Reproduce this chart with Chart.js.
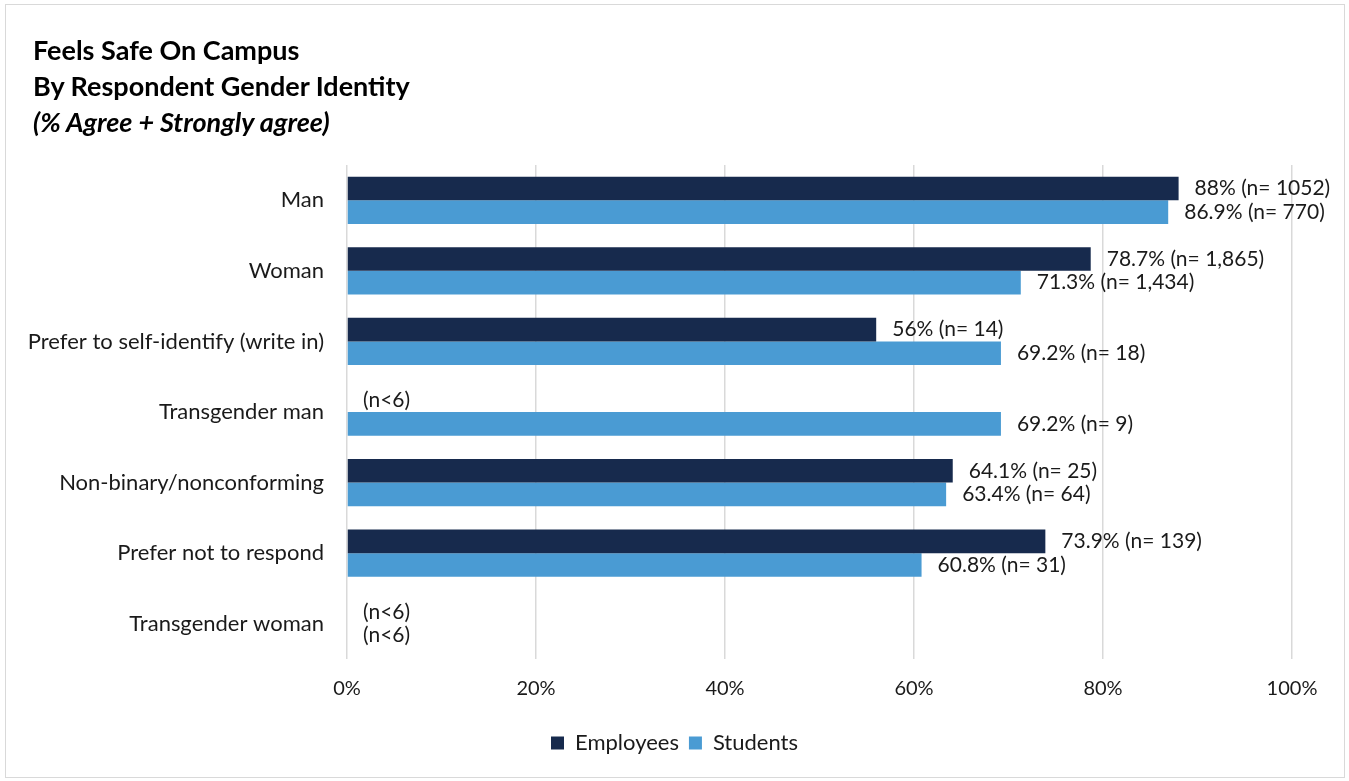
<!DOCTYPE html>
<html>
<head>
<meta charset="utf-8">
<script src="https://cdn.jsdelivr.net/npm/chart.js@4.4.1/dist/chart.umd.min.js"></script>
<style>
	html, body { margin: 0; padding: 0; background: #fff; }
	#wrap { position: relative; width: 1349px; height: 781px; }
	#frame { position: absolute; left: 5px; top: 4px; width: 1338px; height: 772px; border: 1px solid #d9d9d9; }
	#title { position: absolute; left: 33px; top: 32px; font-family: Lato, "Liberation Sans", sans-serif; font-weight: bold; font-size: 27px; line-height: 36px; color: #000; }
	#title i { font-style: italic; }
	#chartBox { position: absolute; left: 0; top: 0; width: 1349px; height: 781px; }
</style>
</head>
<body>
<div id="wrap">
	<div id="frame"></div>
	<div id="chartBox"><canvas id="safeChart"></canvas></div>
	<div id="title">Feels Safe On Campus<br>By Respondent Gender Identity<br><i>(% Agree + Strongly agree)</i></div>
</div>
<script>
const categories = ['Man', 'Woman', 'Prefer to self-identify (write in)', 'Transgender man', 'Non-binary/nonconforming', 'Prefer not to respond', 'Transgender woman'];
const employees = [88, 78.7, 56, null, 64.1, 73.9, null];
const employeesN = ['1052', '1,865', '14', null, '25', '139', null];
const students = [86.9, 71.3, 69.2, 69.2, 63.4, 60.8, null];
const studentsN = ['770', '1,434', '18', '9', '64', '31', null];
const xTicks = [0, 20, 40, 60, 80, 100];

const FONT = 'Lato, "Liberation Sans", sans-serif';

window.addEventListener('DOMContentLoaded', () => {
	const nLists = [employeesN, studentsN];

	// writes "value% (n= count)" after each bar, or "(n<6)" where nothing is reported
	const barLabels = {
		id: 'barLabels',
		afterDatasetsDraw(chart) {
			const ctx = chart.ctx;
			const xScale = chart.scales.x;
			ctx.save();
			ctx.font = '21px ' + FONT;
			ctx.fillStyle = '#1a1a1a';
			ctx.textBaseline = 'middle';
			ctx.textAlign = 'left';
			chart.data.datasets.forEach((ds, di) => {
				const meta = chart.getDatasetMeta(di);
				meta.data.forEach((bar, i) => {
					const value = ds.data[i];
					const n = nLists[di][i];
					let text, x;
					if (value === null) {
						text = '(n<6)';
						x = xScale.getPixelForValue(0);
					} else {
						text = value + '% (n= ' + n + ')';
						x = xScale.getPixelForValue(value);
					}
					ctx.fillText(text, x + 16, bar.y);
				});
			});
			ctx.restore();
		}
	};

	new Chart(document.getElementById('safeChart'), {
		type: 'bar',
		data: {
			labels: categories,
			datasets: [{
				label: 'Employees',
				data: employees,
				backgroundColor: '#172a4d',
				categoryPercentage: 0.67,
				barPercentage: 1
			}, {
				label: 'Students',
				data: students,
				backgroundColor: '#4a9bd3',
				categoryPercentage: 0.67,
				barPercentage: 1
			}]
		},
		options: {
			indexAxis: 'y',
			responsive: true,
			maintainAspectRatio: false,
			animation: false,
			layout: { padding: { top: 165, right: 0, bottom: 17, left: 0 } },
			scales: {
				x: {
					min: 0,
					max: 100,
					afterBuildTicks: scale => { scale.ticks = xTicks.map(v => ({ value: v })); },
					afterFit: scale => { scale.height = 63; },
					ticks: {
						callback: v => v + '%',
						font: { family: FONT, size: 20 },
						color: '#1a1a1a',
						padding: 18,
						maxRotation: 0
					},
					grid: { color: '#d9d9d9', lineWidth: 1.5, drawTicks: false, tickLength: 0 },
					border: { display: false }
				},
				y: {
					afterFit: scale => { scale.width = 347; },
					ticks: {
						font: { family: FONT, size: 22 },
						color: '#1a1a1a',
						padding: 23
					},
					grid: { display: false, drawTicks: false },
					border: { display: false }
				},
				// empty strip on the right that leaves room for the value labels
				yRight: {
					type: 'category',
					position: 'right',
					afterFit: scale => { scale.width = 57; },
					ticks: { display: false },
					grid: { display: false, drawTicks: false },
					border: { display: false }
				}
			},
			plugins: {
				legend: {
					position: 'bottom',
					labels: {
						font: { family: FONT, size: 22 },
						color: '#1a1a1a',
						boxWidth: 13,
						boxHeight: 13,
						padding: 10
					}
				},
				tooltip: { enabled: false },
				title: { display: false }
			}
		},
		plugins: [barLabels]
	});
});
</script>
</body>
</html>
